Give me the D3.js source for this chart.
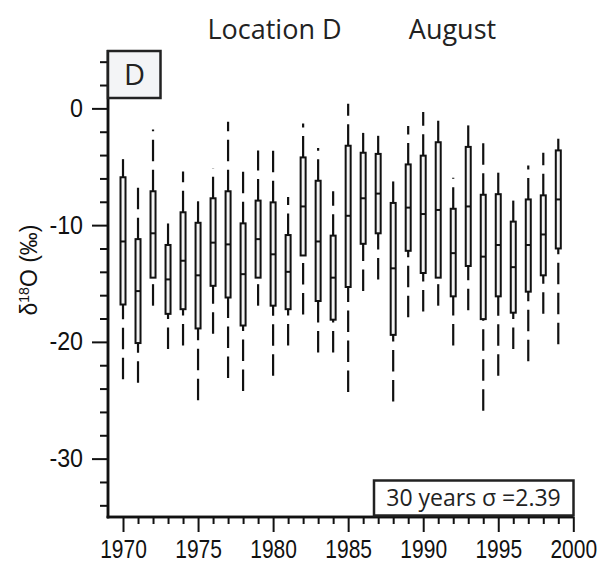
<!DOCTYPE html>
<html>
<head>
<meta charset="utf-8">
<script src="https://cdn.jsdelivr.net/npm/d3@7"></script>
<style>
  html, body { margin: 0; padding: 0; background: #fff; }
  svg { display: block; }
</style>
</head>
<body>
<svg id="chart" width="611" height="562"></svg>
<script>
// ---- data ----
const years       = [1970,1971,1972,1973,1974,1975,1976,1977,1978,1979,1980,1981,1982,1983,1984,1985,1986,1987,1988,1989,1990,1991,1992,1993,1994,1995,1996,1997,1998,1999];
const whiskerHigh = [-4.35,-6.5,-1.8,-9.2,-5.4,-7.4,-5.1,-1.15,-4.9,-3.6,-3.2,-7.6,-1.3,-3.4,-7.1,0.4,-2.1,-2.35,-6.1,-1.5,-0.3,-0.65,-5.95,-1.1,-2.5,-5.4,-7.9,-4.9,-3.8,-2.6];
const quart3      = [-5.9,-11.2,-7.1,-11.7,-8.9,-9.8,-7.7,-7.1,-9.85,-7.9,-8.05,-10.85,-4.2,-6.2,-10.9,-3.2,-3.8,-3.9,-8.1,-4.8,-4.05,-2.9,-8.6,-3.3,-7.4,-7.35,-9.7,-7.8,-7.45,-3.6];
const medians     = [-11.4,-15.65,-10.7,-14.65,-13.05,-14.3,-11.5,-11.65,-14.2,-11.2,-12.5,-14.0,-8.4,-11.4,-14.5,-9.2,-7.7,-7.3,-13.7,-8.5,-9.05,-8.7,-12.4,-8.4,-12.7,-11.7,-13.6,-11.7,-10.8,-7.8];
const quart1      = [-16.8,-20.1,-14.5,-17.6,-17.2,-18.85,-15.2,-16.2,-18.6,-14.5,-16.9,-17.2,-12.6,-16.5,-18.1,-15.3,-11.6,-10.7,-19.4,-12.2,-14.1,-14.5,-16.1,-13.5,-18.05,-16.1,-17.5,-15.7,-14.3,-12.0];
const whiskerLow  = [-23.2,-23.5,-16.9,-20.6,-20.3,-25.0,-19.3,-23.1,-24.2,-16.9,-22.9,-20.3,-17.65,-20.9,-20.9,-24.3,-15.65,-14.65,-25.1,-17.9,-17.4,-16.9,-20.3,-17.3,-25.9,-22.9,-20.6,-21.65,-17.6,-20.2];
const yMajorTicks = [0,-10,-20,-30];
const xMajorTicks = [1970,1975,1980,1985,1990,1995,2000];
const titleLeft = "Location D";
const titleRight = "August";
const panelLabel = "D";
const sigmaText = "30 years \u03c3 =2.39";

// ---- layout ----
const svg = d3.select("#chart");
const x = d3.scaleLinear().domain([1969, 2000]).range([108, 573.3]);
const y = d3.scaleLinear().domain([-35, 5]).range([517, 50]);
const axisFont = "'Liberation Sans', Arial, sans-serif";
const textFont = "'Open Sans', 'Noto Sans', sans-serif";

const rows = years.map((yr, i) => ({
  year: yr, hi: whiskerHigh[i], q3: quart3[i], med: medians[i], q1: quart1[i], lo: whiskerLow[i]
}));

// ---- axes ----
const yMinor = d3.range(-34, 5, 2).filter(v => !yMajorTicks.includes(v));
const gyMinor = svg.append("g").attr("transform", `translate(${x.range()[0]},0)`)
  .call(d3.axisLeft(y).tickValues(yMinor).tickSize(8).tickFormat(""));
const gy = svg.append("g").attr("transform", `translate(${x.range()[0]},0)`)
  .call(d3.axisLeft(y).tickValues(yMajorTicks).tickSize(16).tickPadding(9).tickFormat(d => String(d)));

const xMinor = d3.range(1970, 2001).filter(v => !xMajorTicks.includes(v));
const gxMinor = svg.append("g").attr("transform", `translate(0,${y.range()[0]})`)
  .call(d3.axisBottom(x).tickValues(xMinor).tickSize(7).tickFormat(""));
const gx = svg.append("g").attr("transform", `translate(0,${y.range()[0]})`)
  .call(d3.axisBottom(x).tickValues(xMajorTicks).tickSize(15).tickPadding(5).tickFormat(d => String(d)));

[gyMinor, gy, gxMinor, gx].forEach(g => {
  g.select(".domain").attr("stroke", "#111").attr("stroke-width", 2.5);
  g.selectAll(".tick line").attr("stroke", "#111").attr("stroke-width", 2);
});
gyMinor.select(".domain").attr("d", `M0,${y.range()[1]}V${y.range()[0] + 1.25}`);
gy.select(".domain").attr("d", `M0,${y.range()[1]}V${y.range()[0] + 1.25}`);
gxMinor.select(".domain").attr("d", `M${x.range()[0] - 1.25},0H${x.range()[1]}`);
gx.select(".domain").attr("d", `M${x.range()[0] - 1.25},0H${x.range()[1]}`);

// condensed-looking tick labels
function condense(sel, factor) {
  sel.each(function () {
    const w = this.getComputedTextLength();
    d3.select(this).attr("textLength", w * factor).attr("lengthAdjust", "spacingAndGlyphs");
  });
}
gy.selectAll(".tick text").attr("font-family", axisFont).attr("font-size", 25).attr("fill", "#111");
condense(gy.selectAll(".tick text"), 0.93);
gx.selectAll(".tick text").attr("font-family", axisFont).attr("font-size", 25)
  .attr("fill", "#111").attr("dy", "0.82em");
condense(gx.selectAll(".tick text"), 0.84);

// ---- y label ----
const yl = svg.append("text")
  .attr("transform", "translate(37,270) rotate(-90)")
  .attr("text-anchor", "middle")
  .attr("font-family", axisFont).attr("font-size", 23).attr("fill", "#111");
yl.append("tspan").text("\u03b4");
yl.append("tspan").attr("font-size", 14).attr("dy", -8).text("18");
yl.append("tspan").attr("dy", 8).text("O (\u2030)");

// ---- boxes ----
const boxW = 5;
const dash = "21.5,8.5";
const g = svg.append("g");
g.selectAll("line.up").data(rows).join("line")
  .attr("x1", d => x(d.year)).attr("x2", d => x(d.year))
  .attr("y1", d => y(d.q3)).attr("y2", d => y(d.hi))
  .attr("stroke", "#111").attr("stroke-width", 2.2).attr("stroke-dasharray", dash);
g.selectAll("line.lo").data(rows).join("line")
  .attr("x1", d => x(d.year)).attr("x2", d => x(d.year))
  .attr("y1", d => y(d.lo)).attr("y2", d => y(d.q1))
  .attr("stroke", "#111").attr("stroke-width", 2.2).attr("stroke-dasharray", dash);
g.selectAll("rect.box").data(rows).join("rect")
  .attr("x", d => x(d.year) - boxW / 2).attr("width", boxW)
  .attr("y", d => y(d.q3)).attr("height", d => y(d.q1) - y(d.q3))
  .attr("fill", "#f3f3f3").attr("stroke", "#111").attr("stroke-width", 2);
g.selectAll("line.med").data(rows).join("line")
  .attr("x1", d => x(d.year) - boxW / 2).attr("x2", d => x(d.year) + boxW / 2)
  .attr("y1", d => y(d.med)).attr("y2", d => y(d.med))
  .attr("stroke", "#111").attr("stroke-width", 2);

// ---- panel label box ----
svg.append("rect").attr("x", 108).attr("y", 51).attr("width", 52.5).attr("height", 47)
  .attr("fill", "#f3f4f6").attr("stroke", "#222").attr("stroke-width", 2.5);
svg.append("text").attr("x", 134.5).attr("y", 85).attr("text-anchor", "middle")
  .attr("font-family", textFont).attr("font-size", 29).attr("fill", "#222").text(panelLabel);

// ---- titles ----
svg.append("text").attr("x", 274.5).attr("y", 39).attr("text-anchor", "middle")
  .attr("font-family", textFont).attr("font-size", 27).attr("fill", "#222").text(titleLeft);
svg.append("text").attr("x", 452.5).attr("y", 39).attr("text-anchor", "middle")
  .attr("font-family", textFont).attr("font-size", 27).attr("fill", "#222").text(titleRight);

// ---- sigma box ----
svg.append("rect").attr("x", 374).attr("y", 480.5).attr("width", 199.5).attr("height", 35)
  .attr("fill", "#fff").attr("stroke", "#222").attr("stroke-width", 2.5);
svg.append("text").attr("x", 473.5).attr("y", 506).attr("text-anchor", "middle")
  .attr("font-family", textFont).attr("font-size", 23).attr("fill", "#222").text(sigmaText);
</script>
</body>
</html>
